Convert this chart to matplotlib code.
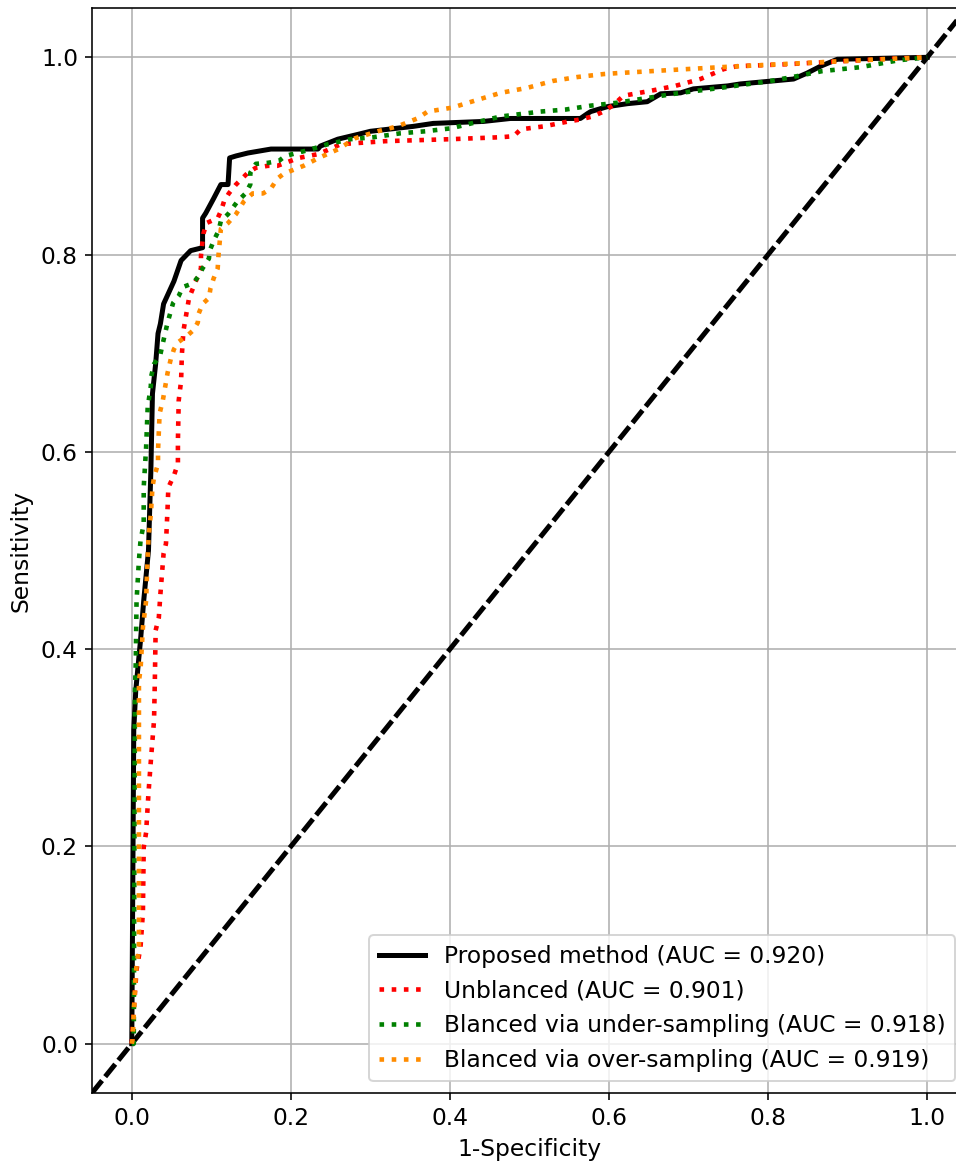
import matplotlib
matplotlib.use("Agg")
import matplotlib.pyplot as plt

# Proposed method
prop_x = [0.0, 0.0025, 0.005, 0.011, 0.015, 0.021, 0.024, 0.026, 0.030, 0.033, 0.036, 0.040,
          0.053, 0.062, 0.074, 0.089, 0.089, 0.093, 0.103, 0.112, 0.121, 0.123, 0.131, 0.146,
          0.175, 0.234, 0.237, 0.259, 0.285, 0.300, 0.354, 0.379, 0.442, 0.476, 0.564, 0.573,
          0.577, 0.598, 0.623, 0.648, 0.665, 0.690, 0.706, 0.749, 0.765, 0.832, 0.849, 0.866,
          0.887, 1.0]
prop_y = [0.0, 0.318, 0.358, 0.409, 0.449, 0.500, 0.581, 0.659, 0.689, 0.720, 0.730, 0.750,
          0.773, 0.794, 0.804, 0.807, 0.837, 0.842, 0.857, 0.871, 0.871, 0.898, 0.900, 0.903,
          0.907, 0.907, 0.910, 0.917, 0.922, 0.925, 0.930, 0.933, 0.935, 0.938, 0.938, 0.943,
          0.945, 0.950, 0.953, 0.955, 0.963, 0.964, 0.968, 0.971, 0.973, 0.978, 0.984, 0.991,
          0.998, 1.0]

# Unbalanced
unb_x = [0.0, 0.0025, 0.006, 0.011, 0.014, 0.015, 0.018, 0.021, 0.024, 0.028, 0.029, 0.030,
         0.034, 0.036, 0.040, 0.043, 0.045, 0.046, 0.053, 0.058, 0.058, 0.059, 0.062, 0.063,
         0.065, 0.072, 0.077, 0.087, 0.087, 0.090, 0.094, 0.108, 0.112, 0.116, 0.122, 0.131,
         0.146, 0.156, 0.171, 0.183, 0.210, 0.235, 0.263, 0.319, 0.401, 0.464, 0.480, 0.489,
         0.518, 0.549, 0.564, 0.579, 0.593, 0.606, 0.618, 0.652, 0.683, 0.715, 0.744, 0.761,
         0.824, 0.891, 0.941, 1.0]
unb_y = [0.0, 0.034, 0.075, 0.098, 0.133, 0.199, 0.214, 0.254, 0.287, 0.328, 0.368, 0.419,
         0.432, 0.456, 0.497, 0.507, 0.543, 0.564, 0.576, 0.588, 0.611, 0.652, 0.672, 0.699,
         0.723, 0.756, 0.766, 0.786, 0.799, 0.821, 0.832, 0.837, 0.844, 0.854, 0.862, 0.871,
         0.883, 0.888, 0.890, 0.890, 0.898, 0.902, 0.912, 0.915, 0.917, 0.919, 0.920, 0.927,
         0.930, 0.935, 0.937, 0.940, 0.945, 0.952, 0.961, 0.966, 0.971, 0.978, 0.988, 0.991,
         0.993, 0.996, 0.998, 1.0]

# Balanced via under-sampling
und_x = [0.0, 0.0025, 0.004, 0.005, 0.006, 0.009, 0.011, 0.015, 0.015, 0.018, 0.020, 0.024,
         0.024, 0.028, 0.036, 0.039, 0.045, 0.052, 0.059, 0.064, 0.077, 0.084, 0.089, 0.097,
         0.098, 0.103, 0.109, 0.112, 0.121, 0.133, 0.143, 0.149, 0.149, 0.156, 0.171, 0.185,
         0.193, 0.222, 0.247, 0.275, 0.304, 0.338, 0.369, 0.401, 0.432, 0.464, 0.514, 0.545,
         0.577, 0.611, 0.642, 0.690, 0.740, 0.803, 0.837, 0.868, 0.916, 0.964, 1.0]
und_y = [0.0, 0.0, 0.358, 0.386, 0.449, 0.490, 0.510, 0.527, 0.564, 0.604, 0.645, 0.667,
         0.675, 0.689, 0.699, 0.710, 0.731, 0.751, 0.758, 0.767, 0.771, 0.778, 0.786, 0.796,
         0.804, 0.814, 0.824, 0.834, 0.841, 0.854, 0.862, 0.871, 0.883, 0.892, 0.893, 0.895,
         0.900, 0.906, 0.912, 0.917, 0.919, 0.923, 0.925, 0.928, 0.934, 0.940, 0.945, 0.947,
         0.951, 0.954, 0.958, 0.964, 0.969, 0.976, 0.981, 0.986, 0.990, 0.997, 1.0]

# Balanced via over-sampling
ovr_x = [0.0, 0.001, 0.005, 0.009, 0.009, 0.011, 0.014, 0.018, 0.019, 0.021, 0.024, 0.026,
         0.028, 0.033, 0.033, 0.035, 0.039, 0.045, 0.049, 0.053, 0.058, 0.070, 0.077, 0.083,
         0.084, 0.089, 0.097, 0.099, 0.103, 0.108, 0.109, 0.112, 0.121, 0.131, 0.141, 0.152,
         0.165, 0.175, 0.183, 0.191, 0.216, 0.235, 0.260, 0.281, 0.309, 0.334, 0.359, 0.372,
         0.403, 0.435, 0.464, 0.497, 0.529, 0.560, 0.593, 0.611, 0.675, 0.740, 0.815, 0.941,
         1.0]
ovr_y = [0.0, 0.004, 0.072, 0.098, 0.368, 0.379, 0.422, 0.449, 0.473, 0.513, 0.537, 0.564,
         0.574, 0.588, 0.601, 0.639, 0.652, 0.680, 0.694, 0.704, 0.711, 0.718, 0.723, 0.731,
         0.740, 0.750, 0.756, 0.766, 0.776, 0.786, 0.799, 0.826, 0.832, 0.841, 0.854, 0.862,
         0.862, 0.867, 0.877, 0.882, 0.890, 0.898, 0.907, 0.918, 0.925, 0.930, 0.938, 0.945,
         0.949, 0.957, 0.964, 0.969, 0.976, 0.980, 0.983, 0.984, 0.987, 0.990, 0.993, 0.998,
         1.0]

labels = ["Proposed method (AUC = 0.920)",
          "Unblanced (AUC = 0.901)",
          "Blanced via under-sampling (AUC = 0.918)",
          "Blanced via over-sampling (AUC = 0.919)"]
ticks = [0.0, 0.2, 0.4, 0.6, 0.8, 1.0]

DPI = 144
plt.rcParams["font.size"] = 11.7
fig = plt.figure(figsize=(956 / DPI, 1162 / DPI), dpi=DPI)
ax = fig.add_axes([92 / 956, 69 / 1162, 875 / 956, 1085 / 1162])

ax.plot([-0.05, 1.05], [-0.05, 1.05], color="black", linestyle=(0, (3.2, 1.0)), lw=2.5)
ax.plot(prop_x, prop_y, color="black", lw=2.5, label=labels[0])
ax.plot(unb_x, unb_y, color="red", linestyle=":", lw=2.3, label=labels[1])
ax.plot(und_x, und_y, color="green", linestyle=":", lw=2.3, label=labels[2])
ax.plot(ovr_x, ovr_y, color="darkorange", linestyle=":", lw=2.3, label=labels[3])

ax.set_xlim(-0.05, 1.05)
ax.set_ylim(-0.05, 1.05)
ax.set_xticks(ticks)
ax.set_yticks(ticks)
ax.grid(True, color="#b0b0b0", lw=0.8)
ax.set_axisbelow(True)
ax.set_xlabel("1-Specificity")
ax.set_ylabel("Sensitivity")
ax.legend(loc="lower right")

fig.savefig("out.png", dpi=DPI)
